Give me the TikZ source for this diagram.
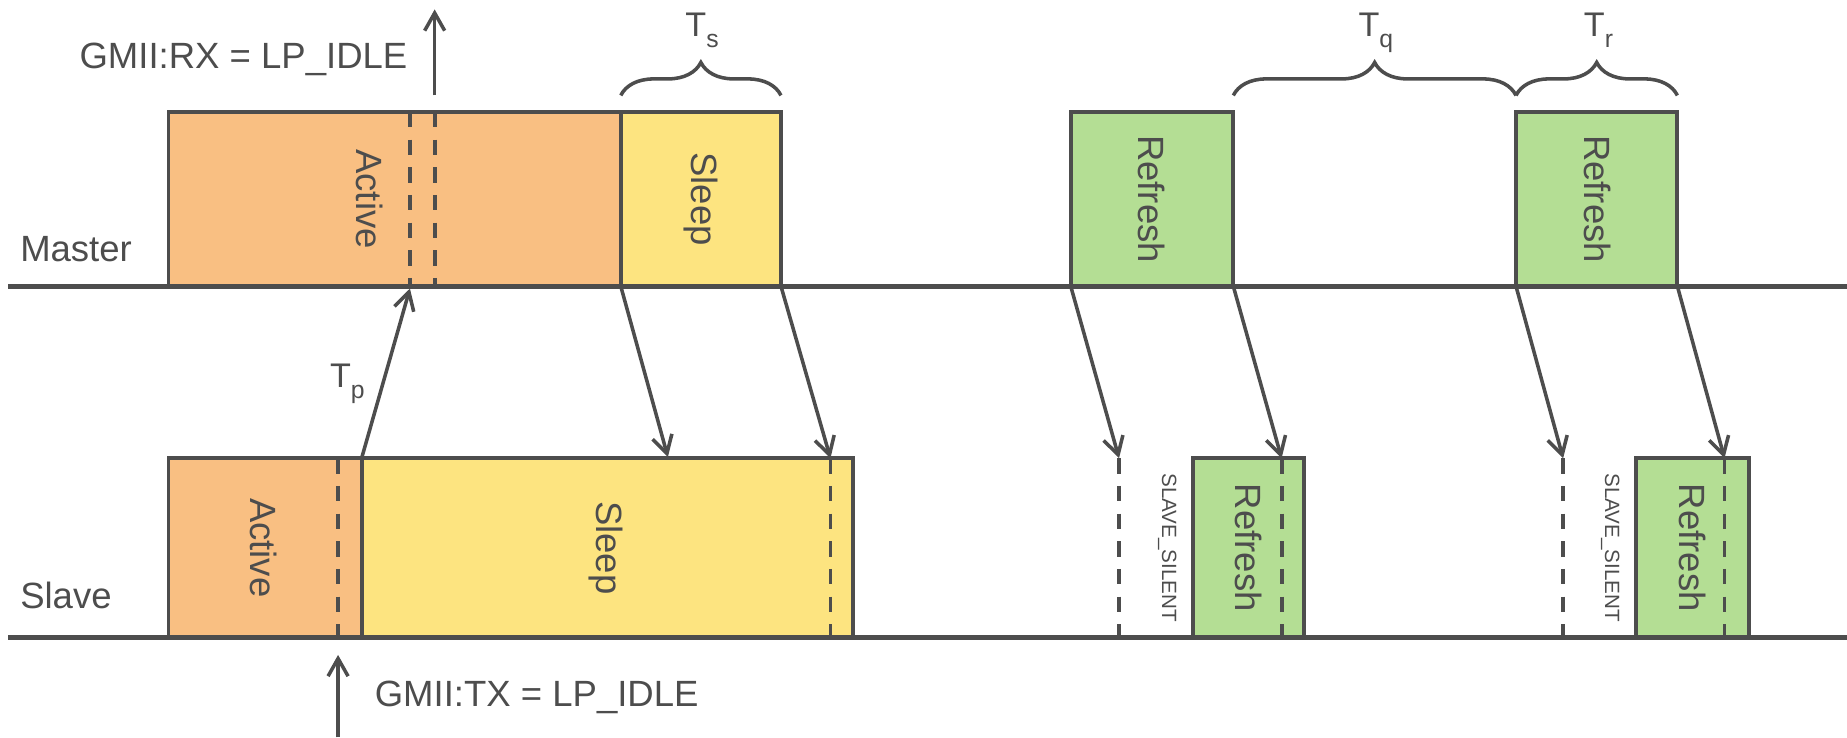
\documentclass[tikz,border=0pt]{standalone}
\usepackage{fontspec}
\setmainfont{Liberation Sans}
\usetikzlibrary{arrows.meta,decorations.pathreplacing}
\definecolor{ink}{RGB}{77,77,77}
\definecolor{actfill}{RGB}{249,191,130}
\definecolor{slpfill}{RGB}{253,228,128}
\definecolor{reffill}{RGB}{180,222,148}
\tikzset{
  phase/.style={draw=ink, line width=3.3pt, inner sep=0pt, outer sep=0pt, anchor=south west},
  mphase/.style={phase, minimum height=148pt},
  sphase/.style={phase, minimum height=152pt},
  timeline/.style={draw=ink, line width=4pt},
  marker/.style={draw=ink, line width=3.3pt, dash pattern=on 13pt off 10.5pt},
  sig/.style={draw=ink, line width=3pt, -{Straight Barb[length=15pt,width=17pt]}},
  lbl/.style={text=ink, font=\fontsize{31}{37}\selectfont, inner sep=0pt},
  vlbl/.style={lbl, rotate=-90},
  tiny/.style={text=ink, font=\fontsize{17.5}{20}\selectfont, inner sep=0pt, rotate=-90},
  tlbl/.style={text=ink, font=\fontsize{29}{34}\selectfont, inner sep=0pt, anchor=base},
  brc/.style={draw=ink, line width=3pt, decorate, decoration={brace, amplitude=28pt}},
}
\newcommand{\tsub}[2]{#1\raisebox{-9pt}{\fontsize{21}{24}\selectfont #2}}
\begin{document}
\begin{tikzpicture}[x=1pt, y=-1pt]
\useasboundingbox (0,0) rectangle (1568,626);

% master phases
\node[mphase, fill=actfill, minimum width=384pt] (mact) at (143,243) {};
\node[mphase, fill=slpfill, minimum width=136pt] (msl)  at (527,243) {};
\node[mphase, fill=reffill, minimum width=138pt] (mr1)  at (909,243) {};
\node[mphase, fill=reffill, minimum width=137pt] (mr2)  at (1287,243) {};

% slave phases
\node[sphase, fill=actfill, minimum width=164pt] (sact) at (143,541) {};
\node[sphase, fill=slpfill, minimum width=417pt] (ssl)  at (307,541) {};
\node[sphase, fill=reffill, minimum width=94pt]  (sr1)  at (1013,541) {};
\node[sphase, fill=reffill, minimum width=96pt]  (sr2)  at (1389,541) {};

% marker end points
\coordinate (m1t) at (348,95);  \coordinate (m1b) at (348,243);
\coordinate (m2t) at (369,95);  \coordinate (m2b) at (369,243);
\coordinate (s1t) at (287,389); \coordinate (s1b) at (287,541);
\coordinate (s2t) at (705,389); \coordinate (s2b) at (705,541);
\coordinate (s3t) at (950,389); \coordinate (s3b) at (950,541);
\coordinate (s4t) at (1088,389); \coordinate (s4b) at (1088,541);
\coordinate (s5t) at (1327,389); \coordinate (s5b) at (1327,541);
\coordinate (s6t) at (1464,389); \coordinate (s6b) at (1464,541);

\foreach \m in {m1,m2,s1,s2,s3,s4,s5,s6}
  \draw[marker] (\m t) -- (\m b);

% phase names
\node[vlbl] (tma)  at (314,169)  {Active};
\node[vlbl] (tms)  at (595,169)  {Sleep};
\node[vlbl] (tmr1) at (978,169)  {Refresh};
\node[vlbl] (tmr2) at (1356,169) {Refresh};
\node[vlbl] (tsa)  at (224,465)  {Active};
\node[vlbl] (tss)  at (514,465)  {Sleep};
\node[vlbl] (tsr1) at (1060,465) {Refresh};
\node[vlbl] (tsr2) at (1437,465) {Refresh};
\node[tiny] (sil1) at (991,465)  {SLAVE\_SILENT};
\node[tiny] (sil2) at (1367,465) {SLAVE\_SILENT};

% time lines
\coordinate (mL) at (7,243);  \coordinate (mR) at (1568,243);
\coordinate (sL) at (7,541);  \coordinate (sR) at (1568,541);
\draw[timeline] (mL) -- (mR);
\draw[timeline] (sL) -- (sR);
\node[lbl, anchor=base west] (master) at (17,222) {Master};
\node[lbl, anchor=base west] (slave)  at (17,517) {Slave};

% GMII indications
\coordinate (rxa) at (369,81);  \coordinate (rxb) at (369,8);
\coordinate (txa) at (287,626); \coordinate (txb) at (287,556);
\draw[sig] (rxa) -- (rxb);
\draw[sig] (txa) -- (txb);
\node[lbl, anchor=base east] (rx) at (346,58)  {GMII:RX = LP\_IDLE};
\node[lbl, anchor=base west] (tx) at (318,600) {GMII:TX = LP\_IDLE};

% signalling between link partners
\coordinate (tpend) at (348,245);
\coordinate (a1) at (567,388);
\draw[sig] (ssl.north west) -- (tpend);
\draw[sig] (msl.south west) -- (a1);
\draw[sig] (msl.south east) -- (s2t);
\draw[sig] (mr1.south west) -- (s3t);
\draw[sig] (mr1.south east) -- (s4t);
\draw[sig] (mr2.south west) -- (s5t);
\draw[sig] (mr2.south east) -- (s6t);
\node[tlbl, anchor=base west] (tp) at (280,329) {\tsub{T}{p}};

% timing braces
\coordinate (b1) at (527,81);  \coordinate (b2) at (663,81);
\coordinate (b3) at (1047,81); \coordinate (b4) at (1287,81);
\coordinate (b5) at (1424,81);
\draw[brc] (b1) -- (b2);
\draw[brc] (b3) -- (b4);
\draw[brc] (b4) -- (b5);
\node[tlbl] (ts) at (596,31)  {\tsub{T}{s}};
\node[tlbl] (tq) at (1168,31) {\tsub{T}{q}};
\node[tlbl] (tr) at (1357,31) {\tsub{T}{r}};
\end{tikzpicture}
\end{document}
